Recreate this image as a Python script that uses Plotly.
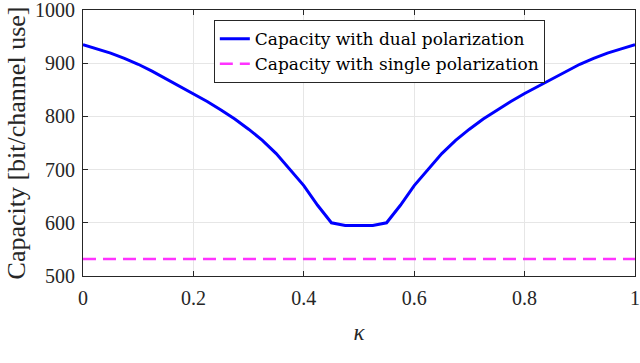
import plotly.graph_objects as go

kappa = [0.0, 0.025, 0.05, 0.075, 0.1, 0.125, 0.15, 0.175, 0.2, 0.225,
         0.25, 0.275, 0.3, 0.325, 0.35, 0.375, 0.4, 0.425, 0.45, 0.475,
         0.5, 0.525, 0.55, 0.575, 0.6, 0.625, 0.65, 0.675, 0.7, 0.725,
         0.75, 0.775, 0.8, 0.825, 0.85, 0.875, 0.9, 0.925, 0.95, 0.975, 1.0]
cap_dual = [935, 927, 919, 909, 898, 885, 871, 857, 843, 828,
            812, 795, 776, 755, 730, 700, 670, 633, 600, 595,
            595, 595, 600, 633, 670, 700, 730, 755, 776, 795,
            812, 828, 843, 857, 871, 885, 898, 909, 919, 927, 935]
cap_single = [532] * len(kappa)

font_serif = 'Liberation Serif'
axis_col = '#262626'
grid_col = '#e6e6e6'

fig = go.Figure()

fig.add_trace(go.Scatter(x=kappa, y=cap_dual,
                         mode='lines',
                         line=dict(color='#0000ff', width=3),
                         name='Capacity with dual polarization'))

fig.add_trace(go.Scatter(x=kappa, y=cap_single,
                         mode='lines',
                         line=dict(color='#ff33ff', width=2.5, dash='13px,7px'),
                         name='Capacity with single polarization'))

fig.update_layout(width=640, height=363,
                  paper_bgcolor='white',
                  plot_bgcolor='white',
                  margin=dict(l=83, r=5, t=10, b=87, autoexpand=False),
                  font=dict(family=font_serif, size=20, color=axis_col),
                  xaxis=dict(range=[0, 1],
                             tickvals=[0, 0.2, 0.4, 0.6, 0.8, 1],
                             ticktext=['0', '0.2', '0.4', '0.6', '0.8', '1'],
                             showgrid=True, gridcolor=grid_col, gridwidth=1,
                             zeroline=False, automargin=False,
                             showline=True, linecolor=axis_col, linewidth=1,
                             mirror='ticks', ticks='inside', ticklen=5,
                             tickcolor=axis_col, ticklabelstandoff=4,
                             ticklabeloverflow='allow',
                             tickfont=dict(size=20),
                             title=dict(text='<i>κ</i>', font=dict(size=23), standoff=15)),
                  yaxis=dict(range=[500, 1000],
                             tickvals=[500, 600, 700, 800, 900, 1000],
                             showgrid=True, gridcolor=grid_col, gridwidth=1,
                             zeroline=False, automargin=False,
                             showline=True, linecolor=axis_col, linewidth=1,
                             mirror='ticks', ticks='inside', ticklen=5,
                             tickcolor=axis_col, ticklabelstandoff=3,
                             ticklabeloverflow='allow',
                             tickfont=dict(size=20),
                             title=dict(text='Capacity [bit/channel use]', font=dict(size=26), standoff=1)),
                  legend=dict(x=0.237, y=0.962, xanchor='left', yanchor='top',
                              bgcolor='white', bordercolor=axis_col, borderwidth=1,
                              font=dict(family='DejaVu Serif', size=17, color='#000000'),
                              tracegroupgap=0, itemwidth=30))

fig.write_html("out.html", config={'displayModeBar': False},
               post_script="document.body.style.margin='0';")
